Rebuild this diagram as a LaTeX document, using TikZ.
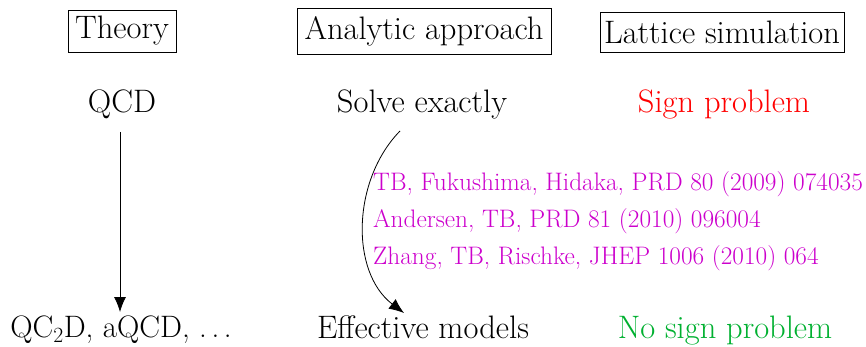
\documentclass[tikz,border=0pt]{standalone}
\usetikzlibrary{arrows.meta}
\definecolor{refmag}{RGB}{204,0,204}
\definecolor{refgreen}{RGB}{0,176,48}
\begin{document}
\begin{tikzpicture}[x=1pt,y=-1pt,
  txt/.style={font=\fontsize{32.5}{34}\selectfont, inner sep=0pt},
  hdr/.style={txt, draw, line width=0.8pt, inner xsep=4pt, inner ysep=6pt, minimum height=42pt},
  ref/.style={font=\fontsize{25.3}{28}\selectfont, text=refmag, inner sep=0pt, anchor=west},
  arr/.style={line width=0.8pt, -{Latex[length=15pt,width=12pt]}}]
\useasboundingbox (0,0) rectangle (866,347);
\node[hdr, minimum width=108pt] (theory) at (122,31) {Theory};
\node[hdr, minimum width=254pt, minimum height=46pt] (analytic) at (424,31) {Analytic approach};
\node[hdr, minimum width=241pt, minimum height=40pt] (lattice) at (722,32) {Lattice simulation};
\node[txt] (qcd) at (122,104) {QCD};
\node[txt] (solve) at (422,104) {Solve exactly};
\node[txt, text=red] (sign) at (724,104) {Sign problem};
\node[txt, anchor=base, font=\fontsize{31}{34}\selectfont] (qc2d) at (121,337) {QC\textsubscript{2}D, aQCD, .\hspace{0.15em}.\hspace{0.15em}.};
\node[txt, anchor=base] (eff) at (423,338) {Effective models};
\node[txt, anchor=base, text=refgreen] (nosign) at (725,338) {No sign problem};
\node[ref] (r1) at (373,184) {TB, Fukushima, Hidaka, PRD 80 (2009) 074035};
\node[ref] (r2) at (373,221) {Andersen, TB, PRD 81 (2010) 096004};
\node[ref] (r3) at (373,258) {Zhang, TB, Rischke, JHEP 1006 (2010) 064};
\coordinate (a0) at (120,132);
\coordinate (a1) at (120,312);
\draw[arr] (a0) -- (a1);
\coordinate (c0) at (400,131);
\coordinate (c1) at (404,313);
\draw[arr] (c0) .. controls (352,180) and (350,272) .. (c1);
\end{tikzpicture}
\end{document}
